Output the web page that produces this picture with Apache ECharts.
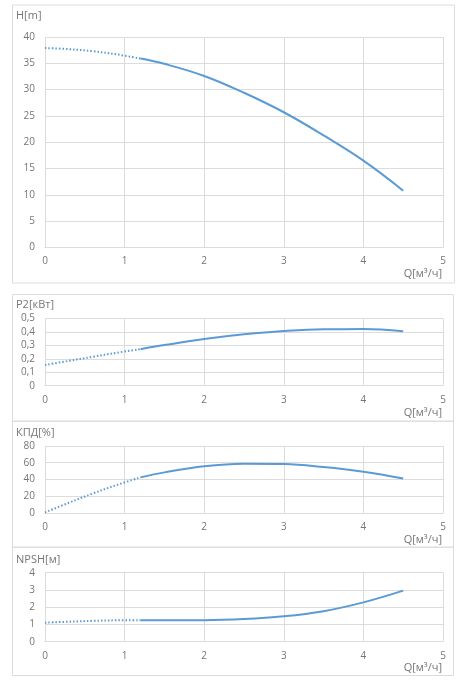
<!DOCTYPE html>
<html><head><meta charset="utf-8">
<script src="https://cdn.jsdelivr.net/npm/echarts@6/dist/echarts.min.js"></script>
<style>html,body{margin:0;padding:0;background:#fff}#c{width:460px;height:684px}</style>
</head><body><div id="c"></div>
<script>
// Flow values (m3/h)
var qDotted = [0, 0.3, 0.6, 0.9, 1.2];
var qSolid = [1.2, 1.5, 2, 2.5, 3, 3.5, 4, 4.5];
// Head H [m]
var hDotted = [37.9, 37.7, 37.3, 36.7, 35.9];
var hSolid = [35.9, 34.9, 32.6, 29.4, 25.7, 21.3, 16.5, 10.8];
// Power P2 [kW]
var pDotted = [0.154, 0.185, 0.215, 0.245, 0.272];
var pSolid = [0.272, 0.302, 0.347, 0.382, 0.407, 0.420, 0.421, 0.405];
// Efficiency [%]
var eDotted = [1, 12.5, 23.5, 33.5, 42.6];
var eSolid = [42.6, 48.5, 55.8, 58.8, 58.4, 54.8, 49.2, 41.2];
// NPSH [m]
var nDotted = [1.10, 1.16, 1.21, 1.24, 1.25];
var nSolid = [1.25, 1.25, 1.25, 1.31, 1.47, 1.77, 2.28, 2.96];
// Axis ticks / labels
var xTicks = {min: 0, max: 5, interval: 1};
var yH = {min: 0, max: 40, interval: 5};
var yP = {min: 0, max: 0.5, interval: 0.1};
var yE = {min: 0, max: 80, interval: 20};
var yN = {min: 0, max: 4, interval: 1};
var yNames = ['H[m]', 'P2[кВт]', 'КПД[%]', 'NPSH[м]'];
var xName = 'Q[м³/ч]';

function pairs(xs, ys) { return xs.map(function (x, i) { return [x, ys[i]]; }); }

var font = '"Open Sans", sans-serif';
var txt = '#767676';
var gridC = '#dcdcdc';
var blue = '#5B9BD5';

var grids = [
  {left: 45, width: 398, top: 37, height: 210.5},
  {left: 45, width: 398, top: 318.5, height: 67.2},
  {left: 45, width: 398, top: 445.8, height: 67.5},
  {left: 45, width: 398, top: 572.7, height: 69}
];
var yDefs = [yH, yP, yE, yN];
var xAxes = [], yAxes = [], series = [];
var sets = [[hDotted, hSolid], [pDotted, pSolid], [eDotted, eSolid], [nDotted, nSolid]];

grids.forEach(function (g, i) {
  xAxes.push({
    type: 'value', gridIndex: i, min: xTicks.min, max: xTicks.max, interval: xTicks.interval,
    axisLine: {show: true, lineStyle: {color: gridC, width: 1}},
    axisTick: {show: false},
    axisLabel: {color: txt, fontFamily: font, fontSize: 10, margin: 9},
    splitLine: {show: true, lineStyle: {color: gridC, width: 1}}
  });
  yAxes.push({
    type: 'value', gridIndex: i, min: yDefs[i].min, max: yDefs[i].max, interval: yDefs[i].interval,
    axisLine: {show: false}, axisTick: {show: false},
    axisLabel: {color: txt, fontFamily: font, fontSize: 10, margin: 10,
      formatter: function (v) { return String(Math.round(v * 10) / 10).replace('.', ','); }},
    splitLine: {show: true, lineStyle: {color: gridC, width: 1}}
  });
  series.push({
    type: 'line', xAxisIndex: i, yAxisIndex: i, smooth: 0.4, symbol: 'none',
    data: pairs(qDotted, sets[i][0]),
    lineStyle: {color: blue, width: 2, type: [1.5, 2]}, silent: true
  });
  series.push({
    type: 'line', xAxisIndex: i, yAxisIndex: i, smooth: 0.4, symbol: 'none',
    data: pairs(qSolid, sets[i][1]),
    lineStyle: {color: blue, width: 2}, silent: true
  });
});

var boxes = [[12, 4.5, 442, 278], [12, 294, 441, 126.7], [12, 420.7, 441, 126], [12, 546.7, 441, 128.3]];
var yNamePos = [[16, 16], [16, 304.5], [16, 432.5], [16, 560]];
var xNamePos = [274, 412.7, 540, 667.5];
var graphic = [];
boxes.forEach(function (b) {
  graphic.push({type: 'rect', shape: {x: b[0] + 0.5, y: b[1] + 0.5, width: b[2], height: b[3]},
    style: {fill: 'none', stroke: gridC, lineWidth: 1}, z: -1});
});
yNamePos.forEach(function (p, i) {
  graphic.push({type: 'text', x: p[0], y: p[1], style: {text: yNames[i], fill: txt, font: '11px ' + font, textVerticalAlign: 'middle'}});
});
xNamePos.forEach(function (y) {
  graphic.push({type: 'text', x: 442, y: y, style: {text: xName, fill: txt, font: '11px ' + font, textAlign: 'right', textVerticalAlign: 'middle'}});
});

var chart = echarts.init(document.getElementById('c'));
chart.setOption({
  animation: false,
  grid: grids, xAxis: xAxes, yAxis: yAxes, series: series, graphic: graphic
});
</script></body></html>
